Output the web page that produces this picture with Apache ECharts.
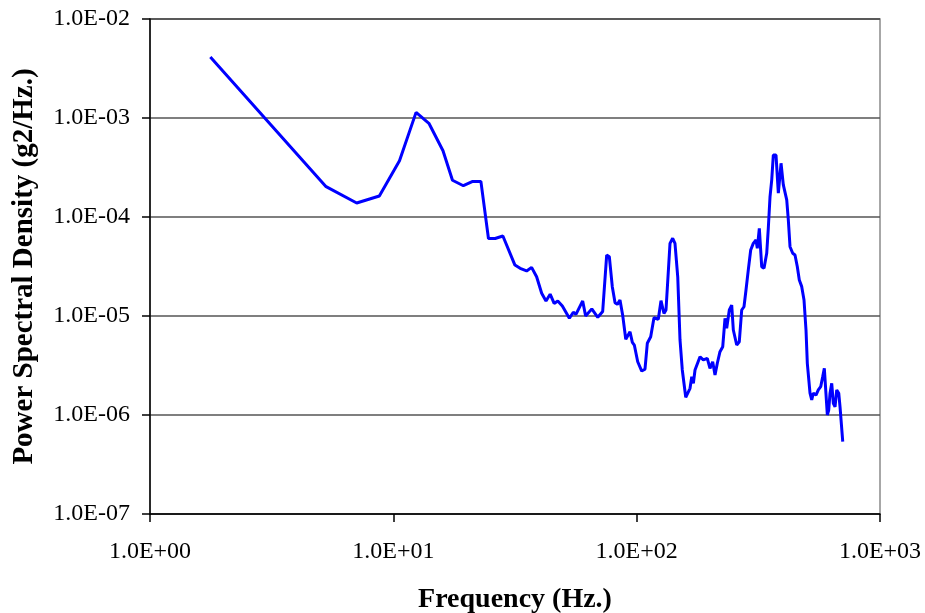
<!DOCTYPE html>
<html>
<head>
<meta charset="utf-8">
<script src="https://cdn.jsdelivr.net/npm/echarts@6/dist/echarts.min.js"></script>
<style>
  html, body { margin: 0; padding: 0; background: #fff; }
  #chart { width: 925px; height: 613px; }
</style>
</head>
<body>
<div id="chart"></div>
<script>
// Frequency (Hz) and power spectral density (g^2/Hz) of the measured spectrum
const freq = [1.77, 5.27, 7.07, 8.76, 10.6, 12.4, 14.0, 16.0, 17.5, 19.4, 21.2, 22.9, 24.6, 26.2, 28.2, 31.6, 33.2, 35.3, 37.0, 38.8,
  40.7, 42.4, 44.1, 45.8, 47.4, 49.5, 52.9, 54.9, 56.3, 60.0, 61.7, 65.4, 69.2, 72.5, 75.3, 77.2, 79.4, 81.5, 83.3, 85.4,
  87.6, 90.2, 93.9, 96.0, 97.8, 101.0, 104.9, 108.2, 110.6, 114.2, 117.8, 122.7, 125.9, 129.5, 132.0, 137.1, 140.6, 143.7, 147.5, 150.7,
  154.0, 159.1, 165.7, 168.4, 171.0, 173.7, 176.5, 182.1, 187.9, 195.1, 200.1, 205.3, 209.9, 214.5, 220.0, 225.8, 230.7, 234.4, 240.3, 245.8,
  249.6, 257.7, 264.1, 270.2, 276.1, 281.4, 287.6, 294.2, 301.5, 309.3, 313.2, 319.2, 326.5, 333.7, 342.3, 347.5, 353.2, 358.9, 364.4, 373.8,
  382.1, 392.0, 400.6, 413.7, 420.0, 426.8, 437.8, 447.4, 457.3, 466.0, 476.8, 487.2, 496.5, 502.7, 515.7, 524.1, 532.1, 545.8, 557.8, 570.6,
  581.6, 590.5, 600.0, 607.5, 615.5, 623.2, 633.3, 643.0, 653.5, 664.0, 676.8, 685.1, 702.9];

const psd = [4.13e-3, 2.04e-4, 1.385e-4, 1.63e-4, 3.70e-4, 1.14e-3, 8.84e-4, 4.67e-4, 2.35e-4, 2.07e-4, 2.29e-4, 2.29e-4, 6.07e-5, 6.07e-5, 6.43e-5, 3.27e-5, 3.03e-5, 2.85e-5, 3.10e-5, 2.49e-5,
  1.70e-5, 1.42e-5, 1.66e-5, 1.34e-5, 1.42e-5, 1.26e-5, 9.48e-6, 1.09e-5, 1.04e-5, 1.42e-5, 1.0e-5, 1.18e-5, 9.7e-6, 1.11e-5, 4.13e-5, 3.97e-5, 1.98e-5, 1.36e-5, 1.31e-5, 1.45e-5,
  1.02e-5, 5.82e-6, 6.94e-6, 5.42e-6, 5.09e-6, 3.45e-6, 2.78e-6, 2.90e-6, 5.3e-6, 6.18e-6, 9.6e-6, 9.27e-6, 1.43e-5, 1.06e-5, 1.15e-5, 5.42e-5, 6.09e-5, 5.42e-5, 2.49e-5, 5.73e-6,
  2.85e-6, 1.51e-6, 1.86e-6, 2.44e-6, 2.09e-6, 2.85e-6, 2.96e-6, 3.88e-6, 3.60e-6, 3.74e-6, 2.96e-6, 3.45e-6, 2.54e-6, 3.33e-6, 4.36e-6, 4.9e-6, 9.48e-6, 7.51e-6, 1.15e-5, 1.29e-5,
  7.22e-6, 5.09e-6, 5.5e-6, 1.15e-5, 1.24e-5, 1.83e-5, 2.92e-5, 4.64e-5, 5.42e-5, 5.86e-5, 4.83e-5, 7.69e-5, 3.15e-5, 3.03e-5, 4.3e-5, 7.69e-5, 1.60e-4, 2.36e-4, 4.23e-4, 4.23e-4,
  1.74e-4, 3.49e-4, 2.11e-4, 1.49e-4, 9.33e-5, 5.01e-5, 4.3e-5, 4.13e-5, 3.15e-5, 2.31e-5, 1.98e-5, 1.45e-5, 7.22e-6, 3.33e-6, 1.66e-6, 1.42e-6, 1.66e-6, 1.59e-6, 1.79e-6, 1.93e-6,
  2.44e-6, 2.96e-6, 2.85e-6, 1.0e-6, 1.12e-6, 1.66e-6, 2.09e-6, 1.31e-6, 1.21e-6, 1.79e-6, 1.66e-6, 1.21e-6, 5.37e-7];

const xTitle = 'Frequency (Hz.)';
const yTitle = 'Power Spectral Density (g2/Hz.)';

// Scientific labels in the "1.0E+00" style
function sci(v) {
  const e = Math.round(Math.log10(v));
  const m = v / Math.pow(10, e);
  const sign = e < 0 ? '-' : '+';
  const ae = Math.abs(e);
  return m.toFixed(1) + 'E' + sign + (ae < 10 ? '0' : '') + ae;
}

const serif = '"Liberation Serif", "Times New Roman", serif';
const chart = echarts.init(document.getElementById('chart'), null, { renderer: 'canvas' });

chart.setOption({
  animation: false,
  backgroundColor: '#fff',
  grid: {
    left: 150, right: 45, top: 19, bottom: 99,
    outerBoundsMode: 'none', containLabel: false,
    show: true, borderColor: '#8a8a8a', borderWidth: 1.5, backgroundColor: 'transparent'
  },
  xAxis: {
    type: 'log', logBase: 10, min: 1, max: 1000,
    name: xTitle, nameLocation: 'middle', nameGap: 72,
    nameTextStyle: { fontFamily: serif, fontWeight: 'bold', fontSize: 28, color: '#000' },
    axisLine: { show: true, lineStyle: { color: '#000', width: 1.5 } },
    axisTick: { show: true, inside: false, length: 8, lineStyle: { color: '#000', width: 1.5 } },
    minorTick: { show: false },
    axisLabel: { formatter: sci, margin: 26, fontFamily: serif, fontSize: 24, color: '#000' },
    splitLine: { show: false }
  },
  yAxis: {
    type: 'log', logBase: 10, min: 1e-7, max: 1e-2,
    name: yTitle, nameLocation: 'middle', nameGap: 111, nameRotate: 90,
    nameTextStyle: { fontFamily: serif, fontWeight: 'bold', fontSize: 29, color: '#000' },
    axisLine: { show: true, lineStyle: { color: '#000', width: 1.5 } },
    axisTick: { show: true, inside: false, length: 8, lineStyle: { color: '#000', width: 1.5 } },
    axisLabel: { formatter: sci, margin: 20, fontFamily: serif, fontSize: 24, color: '#000' },
    splitLine: { show: true, lineStyle: { color: '#555', width: 1.5 } }
  },
  series: [{
    type: 'line',
    data: freq.map((f, i) => [f, psd[i]]),
    showSymbol: false,
    symbol: 'none',
    lineStyle: { color: '#0000ff', width: 3 },
    itemStyle: { color: '#0000ff' }
  }]
});
</script>
</body>
</html>
